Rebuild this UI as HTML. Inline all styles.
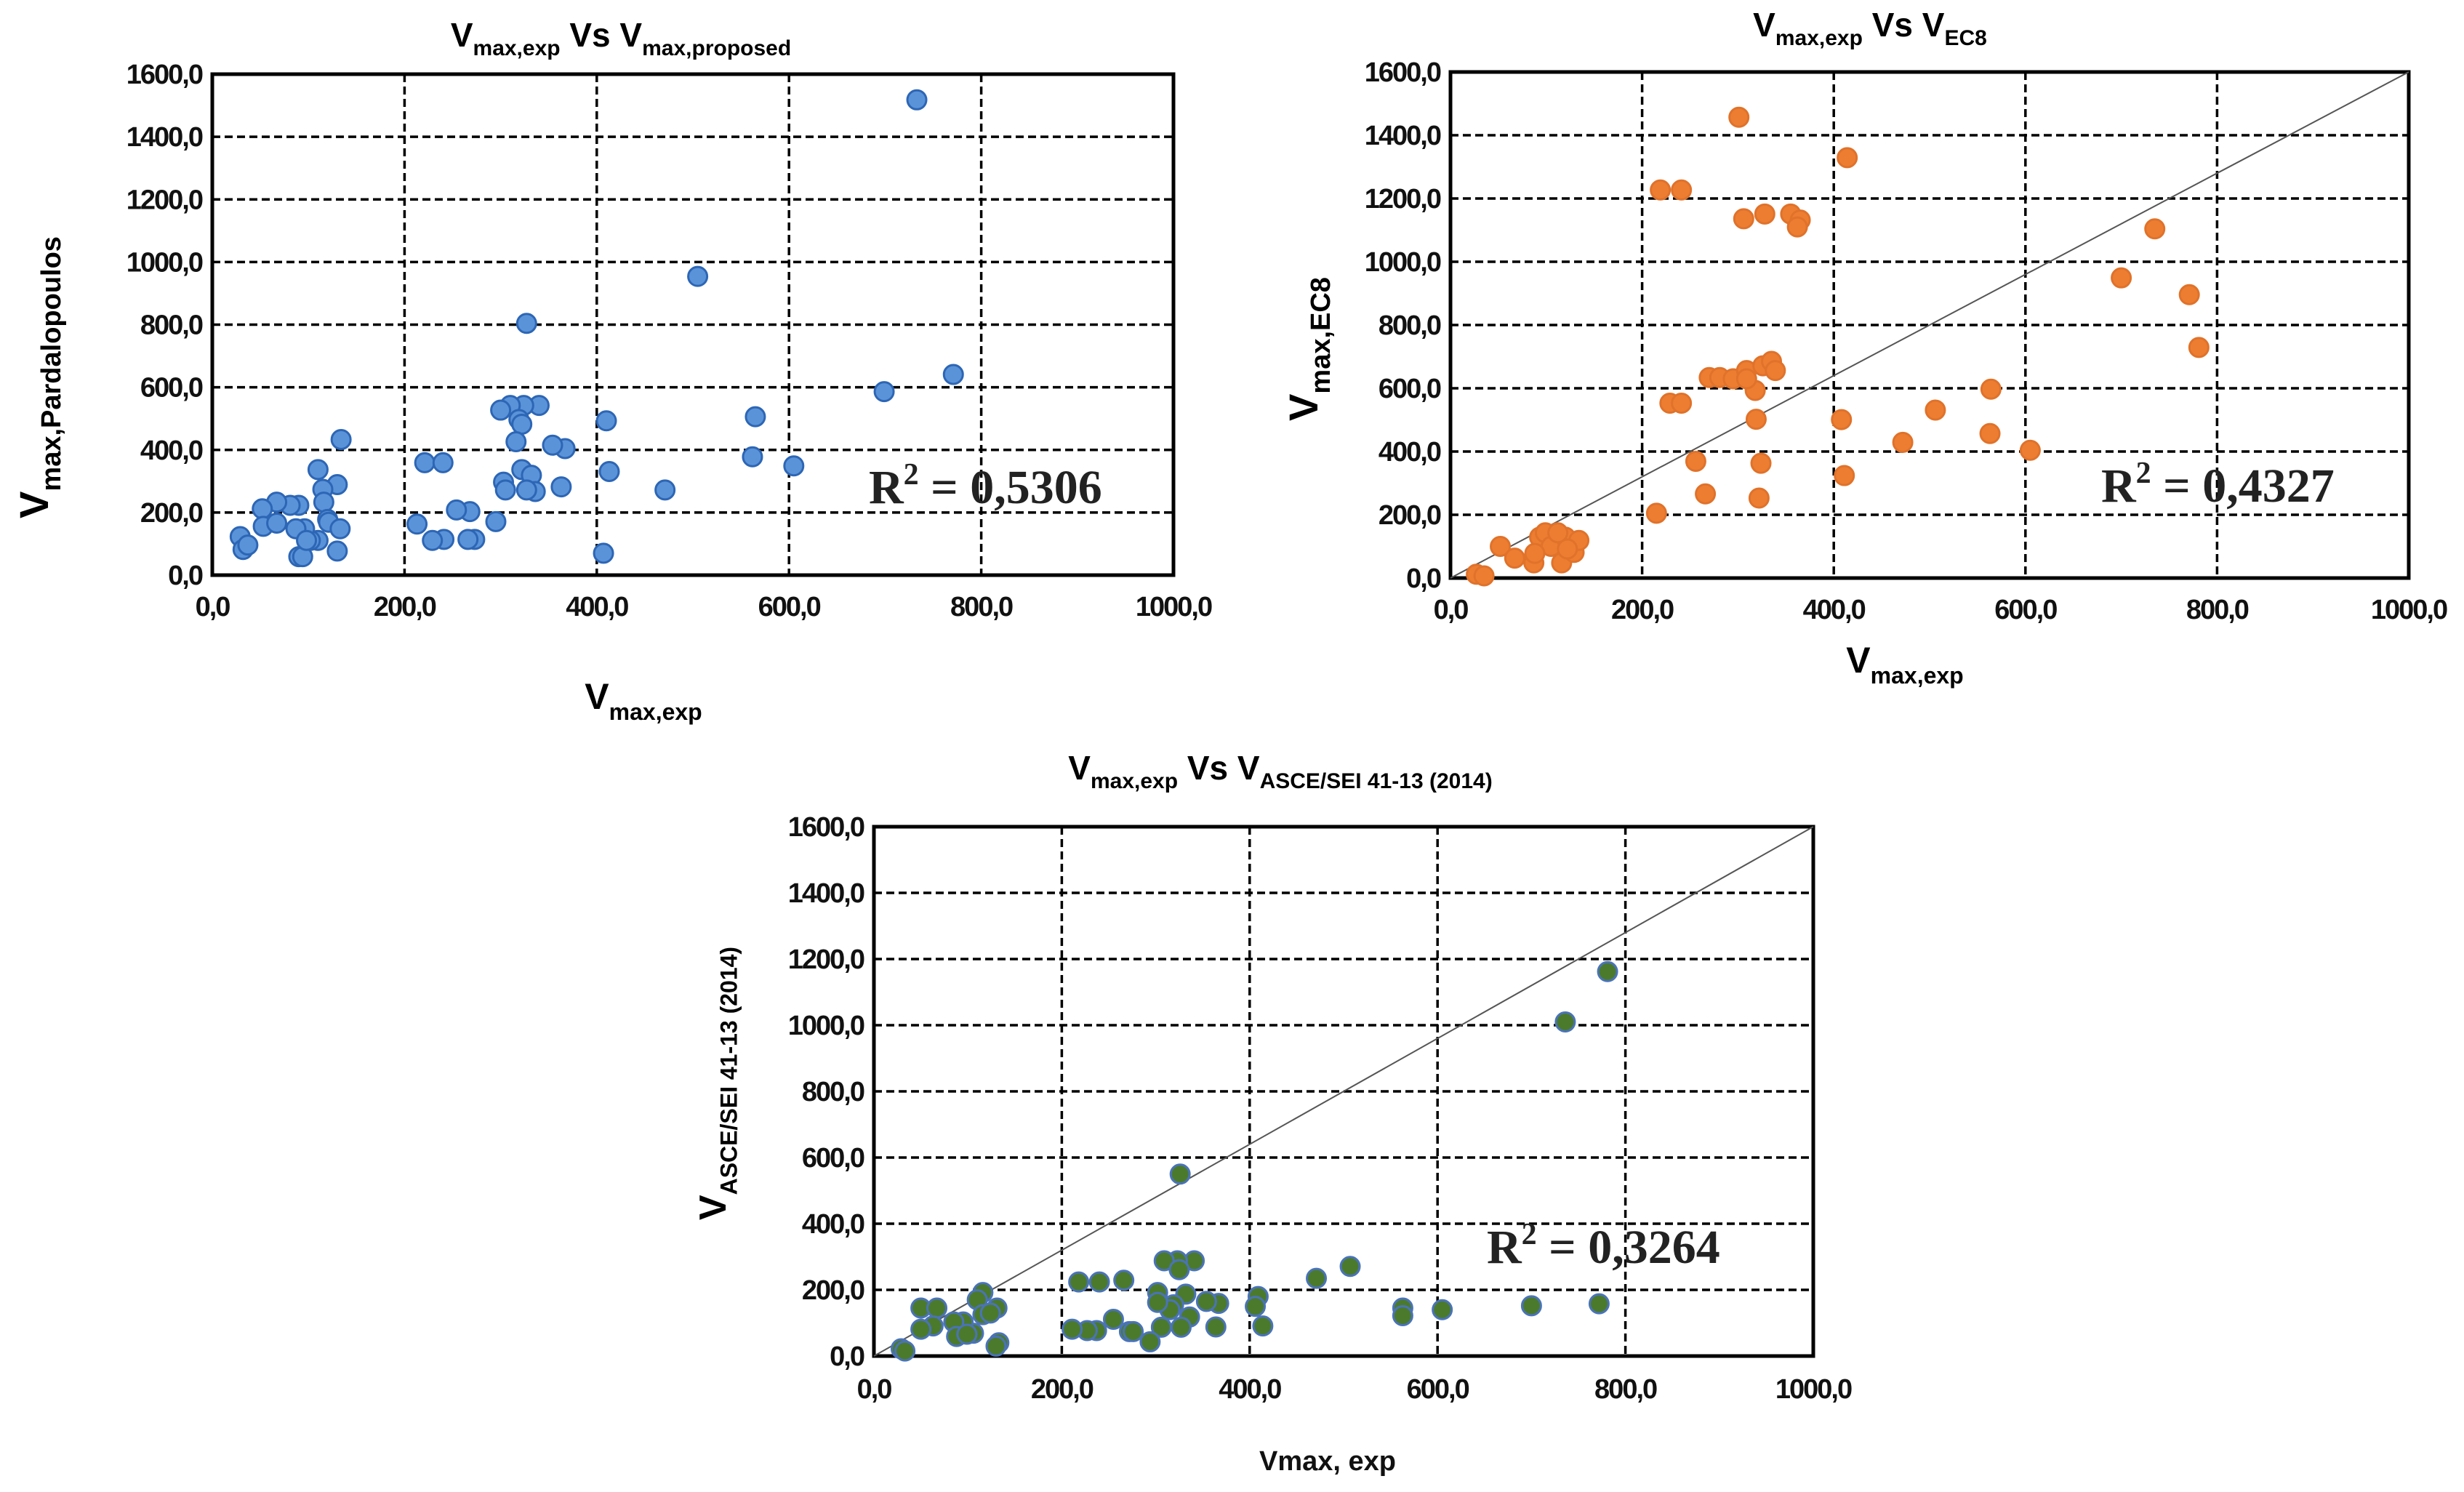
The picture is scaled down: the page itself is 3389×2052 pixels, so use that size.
<!DOCTYPE html>
<html><head><meta charset="utf-8"><style>
html,body{margin:0;padding:0;background:#fff}
svg{display:block}
</style></head><body>
<svg id="fig" width="3389" height="2052" viewBox="0 0 3389 2052" xmlns="http://www.w3.org/2000/svg" font-family="Liberation Sans, sans-serif">
<rect width="3389" height="2052" fill="#fff"/>
<g id="c1"></g>
<g id="c2"></g>
<g id="c3"></g>
</svg>
<script>
const xTicks=[0,200,400,600,800,1000];
const yTicks=[0,200,400,600,800,1000,1200,1400,1600];
const xTickLabels=["0,0","200,0","400,0","600,0","800,0","1000,0"];
const yTickLabels=["0,0","200,0","400,0","600,0","800,0","1000,0","1200,0","1400,0","1600,0"];
const r2Values=["0,5306","0,4327","0,3264"];
const diagSlope=1.6;
const propX=[733,505,327,771,699,565,562,605,410,413,471,407,367,354,363,340,324,310,300,319,322,316,322,332,336,327,303,305,295,268,254,273,266,241,229,213,221,240,134,110,130,115,116,120,121,133,130,110,102,96,87,90,81,67,52,53,67,90,94,29,32,37,98];
const propY=[1518,954,804,641,586,506,378,349,493,331,272,70,404,415,282,542,542,542,527,497,482,426,337,319,267,272,297,272,171,203,208,114,114,114,111,163,359,359,433,337,289,274,233,178,169,148,77,111,111,148,148,223,223,233,212,156,166,59,59,123,82,96,111];
const ec8X=[301,414,219,241,306,328,355,365,362,735,700,771,781,564,506,563,605,472,408,411,319,318,324,322,266,256,215,229,241,270,281,295,309,326,335,339,309,52,67,87,93,99,105,116,120,129,134,122,27,35,88,112];
const ec8Y=[1457,1329,1227,1227,1136,1151,1151,1132,1110,1104,949,896,729,597,531,457,404,429,501,324,502,593,363,253,266,369,205,553,553,634,634,630,656,671,685,656,630,100,63,48,129,143,100,48,129,81,119,92,12,7,78,143];
const asceX=[781,736,326,507,471,700,772,605,563,563,409,406,414,367,354,364,341,323,309,325,332,336,327,319,315,302,302,306,294,266,240,218,255,272,276,237,227,211,116,110,131,116,124,106,95,85,88,99,50,67,63,50,133,130,29,33];
const asceY=[1162,1010,550,271,235,152,158,140,145,122,180,150,91,159,165,88,288,288,288,261,187,118,87,155,140,192,162,87,43,229,224,224,111,74,74,77,77,81,192,170,145,125,130,69,103,103,59,66,145,145,91,81,40,30,22,15];

const NS="http://www.w3.org/2000/svg";
function mk(parent,tag,attrs,txt){const e=document.createElementNS(NS,tag);for(const k in attrs)e.setAttribute(k,attrs[k]);if(txt!=null)e.textContent=txt;parent.appendChild(e);return e;}

function vlabel(parent,x,y,sub,size,subsize,rot){
  const t=mk(parent,'text',{x:x,y:y,'font-size':size,'font-weight':'bold','text-anchor':'middle',fill:'#000'});
  if(rot)t.setAttribute('transform',`rotate(-90 ${x} ${y})`);
  mk(t,'tspan',{},'V');
  mk(t,'tspan',{'font-size':subsize,dy:size*0.3},sub);
  return t;
}

function drawChart(gid,cfg,xs,ys,r2){
  const g=document.getElementById(gid);
  const sx=v=>cfg.x0+(v/1000)*(cfg.x1-cfg.x0);
  const sy=v=>cfg.y0-(v/1600)*(cfg.y0-cfg.y1);
  const grid=mk(g,'g',{});
  
  
  xTicks.forEach((v,i)=>{ if(i>0&&i<xTicks.length-1){
    const l=mk(grid,'line',{x1:sx(v),x2:sx(v),y1:cfg.y1,y2:cfg.y0,stroke:'#000','stroke-width':3.5,'stroke-dasharray':'11 6'});
    }});
  yTicks.forEach((v,i)=>{ if(i>0&&i<yTicks.length-1){
    const l=mk(grid,'line',{x1:cfg.x0,x2:cfg.x1,y1:sy(v),y2:sy(v),stroke:'#000','stroke-width':3.5,'stroke-dasharray':'11 6'});
    }});
  const box=mk(g,'rect',{x:cfg.x0,y:cfg.y1,width:cfg.x1-cfg.x0,height:cfg.y0-cfg.y1,fill:'none',stroke:'#000','stroke-width':5});
  
  xTicks.forEach((v,i)=>{const t=mk(g,'text',{x:sx(v),y:cfg.y0+cfg.xlab,'font-size':38,'font-weight':'bold','text-anchor':'middle','letter-spacing':'-2',fill:'#111'},xTickLabels[i]);
    });
  yTicks.forEach((v,i)=>{const t=mk(g,'text',{x:cfg.x0-14,y:sy(v)+13,'font-size':38,'font-weight':'bold','text-anchor':'end','letter-spacing':'-2',fill:'#111'},yTickLabels[i]);
    });
  if(cfg.diag){const l=mk(g,'line',{x1:sx(0),y1:sy(0),x2:sx(1000),y2:sy(1000*diagSlope),stroke:'#555','stroke-width':2});
    }
  const pts=mk(g,'g',{});
  
  xs.forEach((x,i)=>{const c=mk(pts,'circle',{cx:sx(x),cy:sy(ys[i]),r:cfg.r,fill:cfg.fill,stroke:cfg.stroke,'stroke-width':3});
    });
  const rt=mk(g,'text',{x:cfg.r2x,y:cfg.r2y,'font-size':66,'font-family':'Liberation Serif, serif','font-weight':'bold',fill:'#222'});
  mk(rt,'tspan',{},'R');mk(rt,'tspan',{'font-size':42,dy:-26},'2');mk(rt,'tspan',{dy:26},' = '+r2);
  
  const tt=mk(g,'text',{x:cfg.tx,y:cfg.ty,'font-size':46,'font-weight':'bold','text-anchor':'middle',fill:'#000'});
  mk(tt,'tspan',{},'V');mk(tt,'tspan',{'font-size':30,dy:12},'max,exp');
  mk(tt,'tspan',{dy:-12},' Vs V');mk(tt,'tspan',{'font-size':30,dy:12},cfg.titleSub);
  
  const yl=vlabel(g,cfg.ylx,cfg.yly,cfg.ylSub,cfg.ylSize,cfg.ylSub2,true);
  
  let xl;
  if(cfg.xPlain){xl=mk(g,'text',{x:cfg.xlx,y:cfg.xly,'font-size':38,'font-weight':'bold','text-anchor':'middle',fill:'#111'},'Vmax, exp');}
  else xl=vlabel(g,cfg.xlx,cfg.xly,'max,exp',50,32,false);
  
}

drawChart('c1',{x0:292,x1:1614,y0:791,y1:102,xlab:56,r:13,fill:'#5b93d9',stroke:'#2d66b5',diag:false,
  r2x:1195,r2y:692,tx:854,ty:64,titleSub:'max,proposed',ylx:66,yly:519,ylSub:'max,Pardalopoulos',ylSize:56,ylSub2:38,xlx:885,xly:975},propX,propY,r2Values[0]);
drawChart('c2',{x0:1995,x1:3313,y0:795,y1:99,xlab:56,r:13,fill:'#ed7d31',stroke:'#e0722a',diag:true,
  r2x:2890,r2y:690,tx:2572,ty:50,titleSub:'EC8',ylx:1812,yly:480,ylSub:'max,EC8',ylSize:56,ylSub2:38,xlx:2620,xly:925},ec8X,ec8Y,r2Values[1]);
drawChart('c3',{x0:1202,x1:2494,y0:1865,y1:1137,xlab:58,r:13,fill:'#4b7a2c',stroke:'#4a73b8',diag:true,xPlain:true,
  r2x:2045,r2y:1737,tx:1761,ty:1072,titleSub:'ASCE/SEI 41-13 (2014)',ylx:998,yly:1490,ylSub:'ASCE/SEI 41-13 (2014)',ylSize:52,ylSub2:32,xlx:1826,xly:2022},asceX,asceY,r2Values[2]);
</script>
</body></html>
